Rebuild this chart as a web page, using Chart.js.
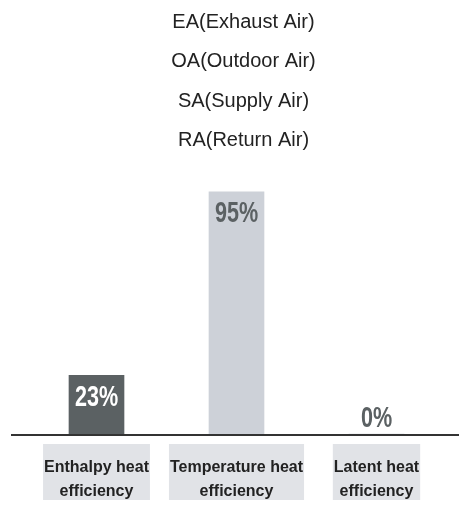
<!DOCTYPE html>
<html>
<head>
<meta charset="utf-8">
<script src="https://cdn.jsdelivr.net/npm/chart.js@4/dist/chart.umd.min.js"></script>
<style>
  html, body { margin: 0; padding: 0; background: #fff; }
  #wrap { width: 463px; height: 505px; position: relative; }
</style>
</head>
<body>
<div id="wrap"><canvas id="chart"></canvas></div>
<script>
const titleLines = ['EA(Exhaust Air)', 'OA(Outdoor Air)', 'SA(Supply Air)', 'RA(Return Air)'];
const categories = [['Enthalpy heat', 'efficiency'], ['Temperature heat', 'efficiency'], ['Latent heat', 'efficiency']];
const efficiency = [23, 95, 0];
const barColors = ['#5b6163', '#cdd1d8', '#cdd1d8'];
const labelColors = ['#ffffff', '#5b6163', '#5b6163'];

const tickFont = 'bold 16px "Liberation Sans", Arial, sans-serif';

// heading lines above the plot
const headingPlugin = {
  id: 'heading',
  afterDraw(chart) {
    const ctx = chart.ctx;
    ctx.save();
    ctx.font = '20px "Liberation Sans", Arial, sans-serif';
    ctx.fillStyle = '#222';
    ctx.textAlign = 'center';
    ctx.textBaseline = 'middle';
    titleLines.forEach((t, i) => ctx.fillText(t, 243.5, 22 + i * 39.5));
    ctx.restore();
  }
};

// grey boxes behind category labels, long baseline, percent labels
const valuePlugin = {
  id: 'values',
  beforeDraw(chart) {
    const ctx = chart.ctx;
    const base = chart.scales.y.getPixelForValue(0);
    ctx.save();
    ctx.font = tickFont;
    ctx.fillStyle = '#e1e3e7';
    categories.forEach((lines, i) => {
      const x = chart.scales.x.getPixelForValue(i);
      const w = Math.max(...lines.map(l => ctx.measureText(l).width)) + 2;
      ctx.fillRect(x - w / 2, base + 10, w, 56);
    });
    ctx.restore();
  },
  beforeDatasetsDraw(chart) {
    const ctx = chart.ctx;
    const y = chart.scales.y.getPixelForValue(0);
    ctx.save();
    ctx.strokeStyle = '#333';
    ctx.lineWidth = 2;
    ctx.beginPath();
    ctx.moveTo(11, y + 1);
    ctx.lineTo(459, y + 1);
    ctx.stroke();
    ctx.restore();
  },
  afterDatasetsDraw(chart) {
    const ctx = chart.ctx;
    const meta = chart.getDatasetMeta(0);
    ctx.save();
    ctx.font = 'bold 30px "Liberation Sans", Arial, sans-serif';
    ctx.textAlign = 'center';
    ctx.textBaseline = 'middle';
    meta.data.forEach((bar, i) => {
      ctx.fillStyle = labelColors[i];
      const yy = efficiency[i] > 0 ? bar.y + 22 : bar.y - 15;
      ctx.save();
      ctx.translate(bar.x, yy);
      ctx.scale(0.72, 1);
      ctx.fillText(efficiency[i] + '%', 0, 0);
      ctx.restore();
    });
    ctx.restore();
  }
};

new Chart(document.getElementById('chart'), {
  type: 'bar',
  data: {
    labels: categories,
    datasets: [{
      data: efficiency,
      backgroundColor: barColors,
      borderWidth: 0,
      barThickness: 55
    }]
  },
  options: {
    responsive: true,
    maintainAspectRatio: false,
    animation: false,
    layout: { padding: { left: 26.5, right: 16.5, top: 179, bottom: -21 } },
    plugins: {
      legend: { display: false },
      tooltip: { enabled: false }
    },
    scales: {
      x: {
        grid: { display: false, drawTicks: false },
        border: { display: false },
        ticks: {
          color: '#222',
          font: { family: '"Liberation Sans", Arial, sans-serif', size: 16, weight: 'bold', lineHeight: 1.5 },
          padding: 22,
          maxRotation: 0
        }
      },
      y: {
        display: false,
        min: 0,
        max: 100
      }
    }
  },
  plugins: [headingPlugin, valuePlugin]
});
</script>
</body>
</html>
